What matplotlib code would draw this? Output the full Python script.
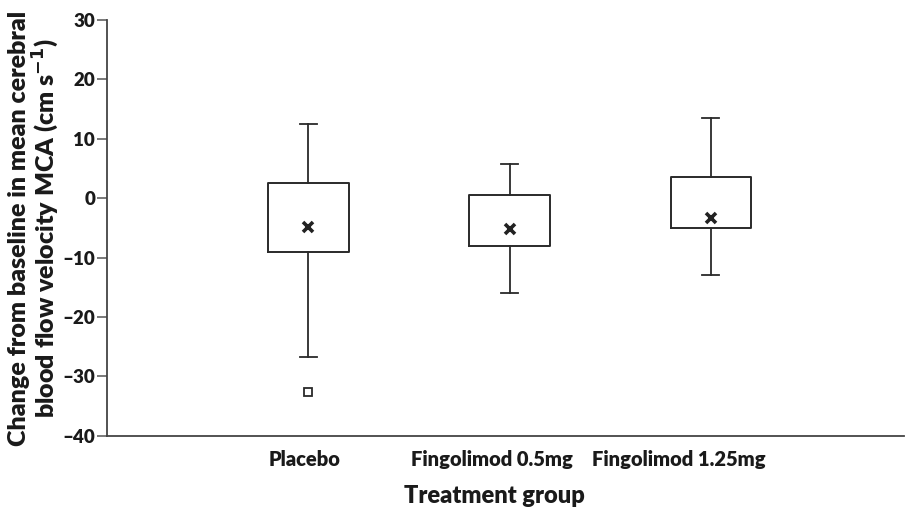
import matplotlib.pyplot as plt

plt.rcParams['font.family'] = ['Lato', 'DejaVu Sans']
plt.rcParams['font.weight'] = 800

groups = ['Placebo', 'Fingolimod 0.5mg', 'Fingolimod 1.25mg']
whis_lo = [-26.7, -15.9, -13.0]
q1 = [-9.0, -8.0, -5.0]
q3 = [2.6, 0.6, 3.5]
whis_hi = [12.5, 5.7, 13.5]
means = [-4.9, -5.1, -3.4]
outliers = [[-32.6], [], []]
label_pos = [0.98, 1.91, 2.84]  # labels are not centred under the boxes

fig = plt.figure(figsize=(9.06, 5.11), dpi=100)
ax = fig.add_axes([0.118, 0.147, 0.88, 0.814])

stats = []
for i in range(len(groups)):
    stats.append(dict(whislo=whis_lo[i], q1=q1[i], med=means[i], q3=q3[i],
                      whishi=whis_hi[i], fliers=outliers[i], mean=means[i]))

pos = [1, 2, 3]
lc = '#2a2a2a'
ax.bxp(stats, positions=pos, widths=0.4, capwidths=0.085, showmeans=False,
       boxprops=dict(color=lc, linewidth=1.4),
       whiskerprops=dict(color=lc, linewidth=1.3),
       capprops=dict(color=lc, linewidth=1.3),
       medianprops=dict(visible=False),
       flierprops=dict(marker='s', markersize=6, markerfacecolor='white',
                       markeredgecolor=lc, markeredgewidth=1.3))
ax.plot(pos, means, linestyle='None', marker='x', markersize=7,
        markeredgewidth=2.6, color='#222222')

ax.set_xlim(0, 3.96)
ax.set_ylim(-40, 30)
ax.set_yticks(range(-40, 31, 10))
ax.set_yticklabels([str(v).replace('-', '\u2013') for v in range(-40, 31, 10)])
ax.set_xticks(label_pos)
ax.set_xticklabels(groups)

ax.spines['top'].set_visible(False)
ax.spines['right'].set_visible(False)
for s in ['left', 'bottom']:
    ax.spines[s].set_color('#444444')
    ax.spines[s].set_linewidth(1.3)
ax.tick_params(axis='y', direction='out', length=7, width=1.1, color='#555555',
               labelsize=13.5, pad=1.5, labelcolor='#1a1a1a')
ax.tick_params(axis='x', length=0, labelsize=14.5, pad=10, labelcolor='#1a1a1a')

ax.set_xlabel('Treatment group', fontsize=17, fontweight=800, color='#1a1a1a')
ax.xaxis.set_label_coords(0.486, -0.118)
ax.set_ylabel('Change from baseline in mean cerebral\nblood flow velocity MCA (cm s$^{\\mathbf{-1}}$)',
              fontsize=18, fontweight=800, linespacing=1.05, color='#1a1a1a')
ax.yaxis.set_label_coords(-0.057, 0.5)

fig.savefig('out.png')
